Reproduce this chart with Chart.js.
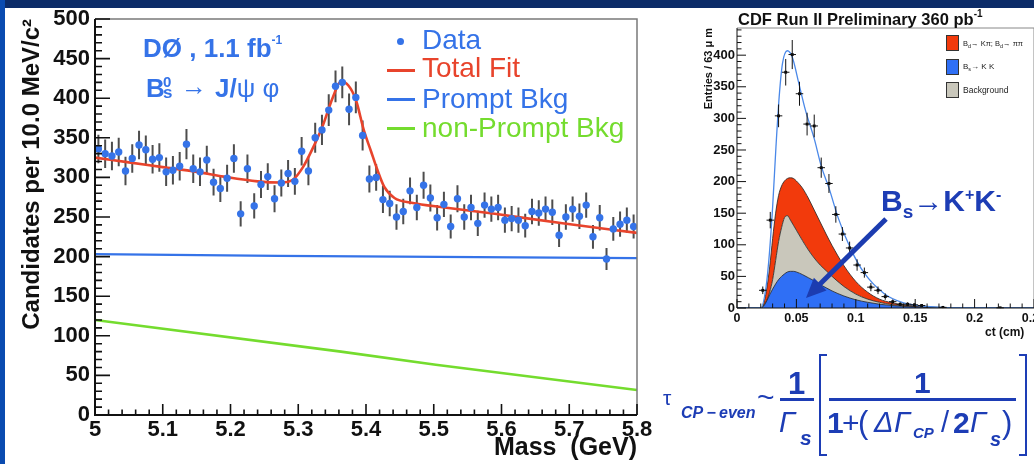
<!DOCTYPE html>
<html><head><meta charset="utf-8">
<script src="https://cdn.jsdelivr.net/npm/chart.js@4.4.1/dist/chart.umd.min.js"></script>
<style>
html,body{margin:0;padding:0;}
body{width:1034px;height:464px;position:relative;overflow:hidden;background:#fff;font-family:"Liberation Sans",Arial,sans-serif;}
.abs{position:absolute;white-space:nowrap;line-height:1;}
canvas{position:absolute;}
.fb{color:#1d3db5;}
.bl{color:#3573e8;}
</style></head>
<body>
<canvas id="massChart" width="660" height="464" style="left:0;top:0"></canvas>
<canvas id="ctChart" width="400" height="345" style="left:660px;top:0"></canvas>

<div style="position:absolute;left:0;top:0;width:1034px;height:8px;background:#0b2b68"></div>
<div style="position:absolute;left:0;top:0;width:5px;height:464px;background:#0a4bb0"></div>

<!-- left panel annotations -->
<div class="abs bl" style="left:143px;top:35px;font-size:26px;font-weight:bold">DØ , 1.1 fb<span style="font-size:12px;position:relative;top:-13px">-1</span></div>
<div class="abs bl" style="left:146px;top:75px;font-size:26px;font-weight:bold">B</div>
<div class="abs bl" style="left:163px;top:74px;font-size:15px;font-weight:bold">0</div>
<div class="abs bl" style="left:163px;top:84px;font-size:17px;font-weight:bold">s</div>
<div class="abs bl" style="left:181px;top:73px;font-size:26px">→</div>
<div class="abs bl" style="left:215px;top:75px;font-size:26px"><b>J/</b>ψ φ</div>

<div class="abs" style="left:396.5px;top:37.5px;width:7px;height:7px;border-radius:50%;background:#3573e8"></div>
<div class="abs bl" style="left:422px;top:26px;font-size:28px">Data</div>
<div class="abs" style="left:387px;top:69px;width:28px;height:2.5px;background:#e8442c"></div>
<div class="abs" style="left:422px;top:54px;font-size:28px;color:#e8442c">Total Fit</div>
<div class="abs" style="left:387px;top:98px;width:28px;height:2.5px;background:#3573e8"></div>
<div class="abs bl" style="left:422px;top:85px;font-size:28px">Prompt Bkg</div>
<div class="abs" style="left:387px;top:127px;width:28px;height:2.5px;background:#74dc2e"></div>
<div class="abs" style="left:422px;top:114px;font-size:28px;color:#74dc2e">non-Prompt Bkg</div>

<!-- right panel annotations -->
<div class="abs" style="left:738px;top:11px;font-size:16.5px;font-weight:bold;color:#111">CDF Run II Preliminary 360 pb<span style="font-size:10px;position:relative;top:-8px">-1</span></div>
<div class="abs" style="left:946px;top:35px;width:13px;height:16px;background:#f23a0c;border:1px solid #333;box-sizing:border-box"></div>
<div class="abs" style="left:963px;top:40px;font-size:7.5px;color:#222">B<span style="font-size:5.5px;position:relative;top:2px">d</span>→ Kπ; B<span style="font-size:5.5px;position:relative;top:2px">d</span>→ ππ</div>
<div class="abs" style="left:946px;top:59px;width:13px;height:16px;background:#2f6ff5;border:1px solid #333;box-sizing:border-box"></div>
<div class="abs" style="left:963px;top:63px;font-size:8px;color:#222">B<span style="font-size:5.5px;position:relative;top:2px">s</span>→ K K</div>
<div class="abs" style="left:946px;top:82px;width:13px;height:16px;background:#c9c7bb;border:1px solid #333;box-sizing:border-box"></div>
<div class="abs" style="left:963px;top:86px;font-size:8.5px;color:#222">Background</div>
<div class="abs" style="left:985px;top:326px;font-size:12px;font-weight:bold;color:#111">ct (cm)</div>

<div class="abs fb" style="left:881px;top:186px;font-size:30px;font-weight:bold">B<span style="font-size:19px;position:relative;top:7px">s</span>→K<span style="font-size:16px;position:relative;top:-11px">+</span>K<span style="font-size:16px;position:relative;top:-11px">-</span></div>
<svg style="position:absolute;left:0;top:0" width="1034" height="464">
  <line x1="886" y1="219" x2="818" y2="286" stroke="#1c3cb0" stroke-width="5"/>
  <polygon points="806,298 813.9,277.8 826.5,290.6" fill="#1c3cb0"/>
</svg>

<!-- formula -->
<div class="abs fb" style="left:663px;top:387px;font-size:21px">τ</div>
<div class="abs fb" style="left:681px;top:405px;font-size:16px;font-weight:bold;font-style:italic">CP&thinsp;−&thinsp;even</div>
<div class="abs fb" style="left:757px;top:382px;font-size:30px">~</div>
<div class="abs fb" style="left:788px;top:368px;font-size:31px;font-weight:bold">1</div>
<div class="abs" style="left:780px;top:398px;width:34px;height:2.5px;background:#1d3db5"></div>
<div class="abs fb" style="left:779px;top:408px;font-size:29px;font-style:italic">Γ</div>
<div class="abs fb" style="left:800px;top:427px;font-size:21px;font-weight:bold;font-style:italic">s</div>
<div class="abs" style="left:819px;top:354px;width:6px;height:98px;border:2.5px solid #1d3db5;border-right:none"></div>
<div class="abs fb" style="left:914px;top:368px;font-size:30px;font-weight:bold">1</div>
<div class="abs" style="left:829px;top:398px;width:187px;height:2.5px;background:#1d3db5"></div>
<div class="abs fb" style="left:827px;top:408px;font-size:30px;font-weight:bold">1</div>
<div class="abs fb" style="left:842px;top:408px;font-size:30px">+</div>
<div class="abs fb" style="left:858px;top:407px;font-size:31px">(</div>
<div class="abs fb" style="left:874px;top:408px;font-size:29px;font-style:italic">Δ</div>
<div class="abs fb" style="left:894px;top:408px;font-size:29px;font-style:italic">Γ</div>
<div class="abs fb" style="left:913px;top:425px;font-size:15px;font-weight:bold;font-style:italic">CP</div>
<div class="abs fb" style="left:941px;top:408px;font-size:29px">/</div>
<div class="abs fb" style="left:953px;top:408px;font-size:30px;font-weight:bold">2</div>
<div class="abs fb" style="left:970px;top:408px;font-size:29px;font-style:italic">Γ</div>
<div class="abs fb" style="left:990px;top:429px;font-size:20px;font-weight:bold;font-style:italic">s</div>
<div class="abs fb" style="left:1002px;top:407px;font-size:31px">)</div>
<div class="abs" style="left:1019px;top:354px;width:6px;height:98px;border:2.5px solid #1d3db5;border-left:none"></div>

<script>
// ===== Left chart: D0  Bs -> J/psi phi mass spectrum =====
const massBins = [5.005,5.015,5.025,5.035,5.045,5.055,5.065,5.075,5.085,5.095,
  5.105,5.115,5.125,5.135,5.145,5.155,5.165,5.175,5.185,5.195,
  5.205,5.215,5.225,5.235,5.245,5.255,5.265,5.275,5.285,5.295,
  5.305,5.315,5.325,5.335,5.345,5.355,5.365,5.375,5.385,5.395,
  5.405,5.415,5.425,5.435,5.445,5.455,5.465,5.475,5.485,5.495,
  5.505,5.515,5.525,5.535,5.545,5.555,5.565,5.575,5.585,5.595,
  5.605,5.615,5.625,5.635,5.645,5.655,5.665,5.675,5.685,5.695,
  5.705,5.715,5.725,5.735,5.745,5.755,5.765,5.775,5.785,5.795];
const candidates = [336,330,327,332,308,324,341,335,323,325,
  307,309,314,342,311,307,322,294,286,299,
  324,254,311,264,291,301,273,293,305,295,
  333,308,350,360,385,415,420,386,401,353,
  298,300,272,267,250,257,283,262,290,274,
  249,266,238,273,250,262,242,265,260,262,
  246,248,246,239,257,255,260,256,227,250,
  260,251,265,225,249,197,235,241,246,238];
const candidatesErr = [18,18,18,18,18,18,18,18,18,18,
  18,18,18,19,18,18,18,17,17,17,
  18,16,18,16,17,17,17,17,17,17,
  18,18,19,19,20,20,20,20,20,19,
  17,17,17,16,16,16,17,16,17,17,
  16,16,15,17,16,16,16,16,16,16,
  16,16,16,15,16,16,16,16,15,16,
  16,16,16,15,16,14,15,16,16,15];
const fitMass = [5.00,5.05,5.10,5.15,5.19,5.24,5.275,5.292,5.307,5.321,5.336,5.351,5.363,5.374,5.385,5.397,5.407,5.417,5.427,5.442,5.467,5.516,5.59,5.69,5.80];
const fitCandidates = [325,319,313,307,301,295,293.5,297,313,336,365,401,421,416,398,359,334,309,288,274,268,262,254,242,230];
const promptMass = [5.00,5.27,5.80];
const promptCandidates = [203,201,198];
const nonPromptMass = [5.00,5.363,5.503,5.80];
const nonPromptCandidates = [120,80,63.5,31.5];
const massTicks = [5.0,5.1,5.2,5.3,5.4,5.5,5.6,5.7,5.8];
const massTickLabels = ['5','5.1','5.2','5.3','5.4','5.5','5.6','5.7','5.8'];
const candTicks = [0,50,100,150,200,250,300,350,400,450,500];
const candTickLabels = ['0','50','100','150','200','250','300','350','400','450','500'];

// ===== Right chart: CDF ct distribution =====
const ctGrid = [0,0.02,0.022,0.025,0.0275,0.03,0.0325,0.035,0.0375,0.04,0.0425,0.045,0.0475,0.05,0.055,0.06,0.065,0.07,0.075,0.08,0.09,0.1,0.11,0.12,0.13,0.14,0.15,0.16,0.18,0.2,0.25];
const bsKK       = [0,0,2,11,21,30,38,45,50,54,57,58,58,57,53,48,43,37,32,27,19,13,9,6,4,2.5,1.5,1,0.3,0,0];
const background = [0,0,1,1,4,15,37,60,77,89,89,81,73,66,54,44,36,31,27,23,15,9,5,3,1.5,1,0.5,0.2,0.1,0,0];
const bdKpiPipi  = [0,0,1,18,40,65,75,73,66,58,59,67,74,78,83,82,76,68,58,49,33,20,11,5,3,1.5,1,0.5,0.1,0,0];
const totalCt = [0,0.02,0.0245,0.0273,0.03,0.0328,0.0355,0.0383,0.0424,0.0465,0.0521,0.0576,0.065,0.071,0.0774,0.0851,0.0961,0.1072,0.1237,0.1402,0.1568,0.184,0.25];
const totalEntries = [0,0,34,87,160,255,334,387,407,397,355,313,268,224,190,143,92,55,23,8,3,0.5,0];
const dataCt = [0.0217,0.028,0.035,0.041,0.0465,0.0526,0.059,0.065,0.0709,0.0774,0.0832,0.0887,0.0948,0.1011,0.1072,0.1127,0.1187,0.1248,0.1311,0.1374,0.1436,0.1493,0.1554,0.1733,0.2215];
const dataEntries = [28,139,304,373,401,339,291,288,222,197,148,117,95,68,56,33,28,18,10,6,6,5,4,1,0.3];
const dataEntriesErr = [6,13,18,21,23,19,18,18,16,15,13,11,10,9,8,6.5,6,5,3.5,3,3,2.5,2,1.2,0.6];
const ctBinHalfWidth = 0.00315;
const ctTicks = [0,0.05,0.1,0.15,0.2,0.25];
const ctTickLabels = ['0','0.05','0.1','0.15','0.2','0.25'];
const entryTicks = [0,50,100,150,200,250,300,350,400];
const entryTickLabels = ['0','50','100','150','200','250','300','350','400'];

const FONT = 'Liberation Sans';

function framePlugin(o) {
  return {
    id: o.id,
    afterDraw(chart) {
      const {ctx, chartArea: a, scales: {x, y}} = chart;
      ctx.save();
      ctx.strokeStyle = o.frameColor; ctx.lineWidth = o.frameWidth;
      ctx.beginPath();
      ctx.moveTo(a.left, a.top); ctx.lineTo(a.right, a.top); ctx.lineTo(a.right, a.bottom);
      ctx.stroke();
      ctx.strokeStyle = o.axisColor; ctx.lineWidth = o.axisWidth;
      ctx.beginPath();
      ctx.moveTo(a.left, a.top); ctx.lineTo(a.left, a.bottom); ctx.lineTo(a.right, a.bottom);
      ctx.stroke();
      ctx.lineWidth = o.tickWidth;
      ctx.beginPath();
      const nY = Math.round((o.yEnd - o.yStart) / o.yMinor);
      for (let k = 0; k <= nY; k++) {
        const py = y.getPixelForValue(o.yStart + k * o.yMinor);
        const len = (k % o.yMajorEvery === 0) ? o.yMajorLen : o.yMinorLen;
        ctx.moveTo(a.left, py); ctx.lineTo(a.left + len, py);
      }
      const nX = Math.round((o.xEnd - o.xStart) / o.xMinor);
      for (let k = 0; k <= nX; k++) {
        const px = x.getPixelForValue(o.xStart + k * o.xMinor);
        const len = (k % o.xMajorEvery === 0) ? o.xMajorLen : o.xMinorLen;
        ctx.moveTo(px, a.bottom); ctx.lineTo(px, a.bottom - len);
      }
      ctx.stroke();
      ctx.restore();
    }
  };
}

const massErrorBars = {
  id: 'massErrorBars',
  beforeDatasetsDraw(chart) {
    const {ctx, scales: {x, y}} = chart;
    ctx.save();
    ctx.strokeStyle = '#4d4d4d'; ctx.lineWidth = 2;
    ctx.beginPath();
    massBins.forEach((m, i) => {
      const px = x.getPixelForValue(m);
      ctx.moveTo(px, y.getPixelForValue(candidates[i] - candidatesErr[i]));
      ctx.lineTo(px, y.getPixelForValue(candidates[i] + candidatesErr[i]));
    });
    ctx.stroke();
    ctx.restore();
  }
};

const ctErrorBars = {
  id: 'ctErrorBars',
  afterDatasetsDraw(chart) {
    const {ctx, scales: {x, y}} = chart;
    ctx.save();
    ctx.strokeStyle = '#111'; ctx.lineWidth = 1;
    ctx.beginPath();
    dataCt.forEach((c, i) => {
      const px = x.getPixelForValue(c), py = y.getPixelForValue(dataEntries[i]);
      ctx.moveTo(px, y.getPixelForValue(dataEntries[i] - dataEntriesErr[i]));
      ctx.lineTo(px, y.getPixelForValue(dataEntries[i] + dataEntriesErr[i]));
      ctx.moveTo(x.getPixelForValue(c - ctBinHalfWidth), py);
      ctx.lineTo(x.getPixelForValue(c + ctBinHalfWidth), py);
    });
    ctx.stroke();
    ctx.restore();
  }
};

const xy = (xs, ys) => xs.map((v, i) => ({x: v, y: ys[i]}));

new Chart(document.getElementById('massChart'), {
  type: 'line',
  data: { datasets: [
    { label: 'Data', data: xy(massBins, candidates), showLine: false, pointRadius: 3.7,
      pointBackgroundColor: '#3573e8', pointBorderWidth: 0 },
    { label: 'Total Fit', data: xy(fitMass, fitCandidates), borderColor: '#e8442c', borderWidth: 2.6,
      pointRadius: 0, cubicInterpolationMode: 'monotone' },
    { label: 'Prompt Bkg', data: xy(promptMass, promptCandidates), borderColor: '#3573e8', borderWidth: 2.2, pointRadius: 0 },
    { label: 'non-Prompt Bkg', data: xy(nonPromptMass, nonPromptCandidates), borderColor: '#74dc2e', borderWidth: 2.6, pointRadius: 0 }
  ]},
  options: {
    responsive: false, animation: false, devicePixelRatio: 1,
    layout: { padding: { left: 0, top: 19, right: 23, bottom: 0 } },
    plugins: { legend: { display: false }, tooltip: { enabled: false } },
    scales: {
      x: { type: 'linear', min: 5, max: 5.8,
        grid: { display: false, drawTicks: false }, border: { display: false },
        afterBuildTicks: s => { s.ticks = massTicks.map(v => ({value: v})); },
        afterFit: s => { s.height = 49; },
        ticks: { autoSkip: false, maxRotation: 0, padding: 2, color: '#111',
          font: { family: FONT, size: 22, weight: 'bold' }, callback: (v, i) => massTickLabels[i] },
        title: { display: true, text: 'Mass  (GeV)', align: 'end', color: '#111',
          font: { family: FONT, size: 25, weight: 'bold' }, padding: { top: 0, bottom: 1 } }
      },
      y: { type: 'linear', min: 0, max: 500,
        grid: { display: false, drawTicks: false }, border: { display: false },
        afterBuildTicks: s => { s.ticks = candTicks.map(v => ({value: v})); },
        afterFit: s => { s.width = 95; },
        ticks: { autoSkip: false, padding: 5, color: '#111',
          font: { family: FONT, size: 22, weight: 'bold' }, callback: (v, i) => candTickLabels[i] },
        title: { display: true, text: 'Candidates per 10.0 MeV/c²', align: 'end', color: '#111',
          font: { family: FONT, size: 24, weight: 'bold' }, padding: { top: 18, bottom: 0 } }
      }
    }
  },
  plugins: [massErrorBars, framePlugin({ id: 'massFrame', frameColor: '#7a7a7a', frameWidth: 1.5,
    axisColor: '#111', axisWidth: 2, tickWidth: 1.6,
    yStart: 0, yEnd: 500, yMinor: 10, yMajorEvery: 5, yMajorLen: 15, yMinorLen: 7,
    xStart: 5, xEnd: 5.8, xMinor: 0.02, xMajorEvery: 5, xMajorLen: 11, xMinorLen: 5.5 })]
});

const blueTop = bsKK.slice();
const grayTop = bsKK.map((v, i) => v + background[i]);
const redTop = grayTop.map((v, i) => v + bdKpiPipi[i]);

new Chart(document.getElementById('ctChart'), {
  type: 'line',
  data: { datasets: [
    { label: 'Data', data: xy(dataCt, dataEntries), showLine: false, pointStyle: 'rect', pointRadius: 2,
      pointBackgroundColor: '#000', pointBorderWidth: 0 },
    { label: 'Fit', data: xy(totalCt, totalEntries), borderColor: '#4a88e8', borderWidth: 1.3, pointRadius: 0,
      cubicInterpolationMode: 'monotone', fill: false },
    { label: 'Bs→K K', data: xy(ctGrid, blueTop), borderColor: '#222', borderWidth: 0.8, backgroundColor: '#2f6ff5',
      fill: 'origin', pointRadius: 0, cubicInterpolationMode: 'monotone' },
    { label: 'Background', data: xy(ctGrid, grayTop), borderColor: '#222', borderWidth: 0.8, backgroundColor: '#c9c7bb',
      fill: 2, pointRadius: 0, cubicInterpolationMode: 'monotone' },
    { label: 'Bd→Kπ; Bd→ππ', data: xy(ctGrid, redTop), borderColor: '#222', borderWidth: 0.8, backgroundColor: '#f23a0c',
      fill: 3, pointRadius: 0, cubicInterpolationMode: 'monotone' }
  ]},
  options: {
    responsive: false, animation: false, devicePixelRatio: 1,
    layout: { padding: { left: 0, top: 28, right: 26, bottom: 0 } },
    plugins: { legend: { display: false }, tooltip: { enabled: false } },
    scales: {
      x: { type: 'linear', min: 0, max: 0.25,
        grid: { display: false, drawTicks: false }, border: { display: false },
        afterBuildTicks: s => { s.ticks = ctTicks.map(v => ({value: v})); },
        afterFit: s => { s.height = 37; },
        ticks: { autoSkip: false, maxRotation: 0, padding: 3, color: '#111',
          font: { family: FONT, size: 12.5, weight: 'bold' }, callback: (v, i) => ctTickLabels[i] }
      },
      y: { type: 'linear', min: 0, max: 443,
        grid: { display: false, drawTicks: false }, border: { display: false },
        afterBuildTicks: s => { s.ticks = entryTicks.map(v => ({value: v})); },
        afterFit: s => { s.width = 77; },
        ticks: { autoSkip: false, padding: 2, color: '#111',
          font: { family: FONT, size: 13, weight: 'bold' }, callback: (v, i) => entryTickLabels[i] },
        title: { display: true, text: 'Entries / 63 μ m', align: 'end', color: '#111',
          font: { family: FONT, size: 11, weight: 'bold' }, padding: { top: 42, bottom: 0 } }
      }
    }
  },
  plugins: [ctErrorBars, framePlugin({ id: 'ctFrame', frameColor: '#888', frameWidth: 1,
    axisColor: '#111', axisWidth: 1, tickWidth: 1,
    yStart: 0, yEnd: 440, yMinor: 10, yMajorEvery: 5, yMajorLen: 9, yMinorLen: 4.5,
    xStart: 0, xEnd: 0.25, xMinor: 0.01, xMajorEvery: 5, xMajorLen: 9, xMinorLen: 4.5 })]
});
</script>
</body></html>
